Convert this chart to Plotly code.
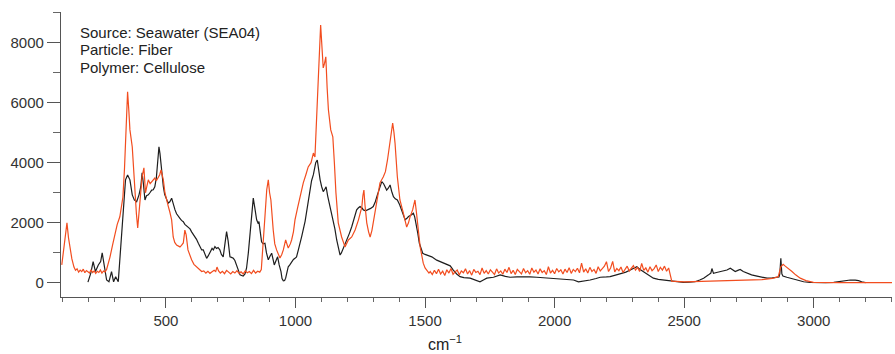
import plotly.graph_objects as go

# Wavenumbers (cm^-1) and intensities
black_x = [199, 205, 210, 219, 228, 239, 248, 254, 262, 271, 280, 290, 298, 306, 316, 326, 335, 344, 352, 361,
           370, 378, 387, 396, 403, 408, 413, 419, 425, 432, 438, 445, 451, 457, 463, 468, 473, 477, 481, 485,
           490, 495, 499, 504, 509, 515, 522, 528, 535, 541, 547, 554, 560, 567, 573, 580, 586, 593, 599, 605,
           612, 618, 625, 632, 638, 644, 650, 657, 663, 670, 678, 683, 689, 695, 701, 708, 714, 721, 727, 734,
           740, 747, 753, 760, 766, 773, 780, 786, 792, 798, 805, 811, 818, 824, 830, 837, 843, 850, 855, 859,
           864, 869, 875, 882, 888, 895, 902, 908, 913, 918, 925, 931, 937, 944, 948, 953, 958, 962, 967, 972,
           978, 985, 992, 998, 1004, 1011, 1018, 1024, 1037, 1049, 1062, 1069, 1078, 1084, 1090, 1095, 1101, 1107, 1112, 1118,
           1124, 1131, 1138, 1144, 1152, 1159, 1165, 1172, 1177, 1182, 1190, 1198, 1208, 1217, 1226, 1236, 1243, 1249, 1256, 1262,
           1270, 1281, 1290, 1300, 1308, 1316, 1325, 1333, 1340, 1346, 1352, 1358, 1365, 1371, 1378, 1385, 1393, 1402, 1410, 1416,
           1423, 1430, 1436, 1445, 1455, 1460, 1465, 1472, 1478, 1485, 1491, 1500, 1506, 1519, 1526, 1545, 1560, 1571, 1585, 1597,
           1609, 1622, 1635, 1650, 1674, 1690, 1712, 1725, 1738, 1764, 1790, 1810, 1828, 1855, 1880, 1905, 1931, 1960, 1983, 2010,
           2035, 2060, 2073, 2092, 2110, 2137, 2160, 2176, 2200, 2214, 2235, 2253, 2275, 2292, 2305, 2317, 2330, 2343, 2360, 2381,
           2400, 2420, 2440, 2459, 2497, 2520, 2542, 2560, 2575, 2594, 2603, 2607, 2613, 2625, 2639, 2655, 2665, 2678, 2688, 2697,
           2707, 2716, 2728, 2742, 2760, 2781, 2800, 2820, 2840, 2858, 2866, 2869, 2873, 2877, 2881, 2896, 2922, 2940, 2961, 2985,
           3012, 3045, 3077, 3100, 3115, 3141, 3160, 3173, 3185, 3200]
black_y = [30, 200, 330, 710, 380, 600, 710, 1000, 500, 100, 40, 380, 40, 210, 40, 1210, 2540, 3430, 3590, 3430,
           2930, 2760, 2700, 2930, 3200, 3660, 3300, 2760, 2900, 2930, 3000, 3090, 3100, 3200, 3500, 4090, 4530, 4300, 3870, 3500,
           3200, 2950, 2820, 2750, 2660, 2700, 2820, 2600, 2430, 2300, 2210, 2150, 2080, 2040, 1950, 1900, 1870, 1800, 1700, 1620,
           1540, 1450, 1320, 1200, 1100, 1100, 950, 820, 900, 1040, 1150, 1100, 1210, 1150, 1180, 1100, 950, 870, 1200, 1710,
           1400, 870, 850, 820, 750, 600, 400, 270, 250, 230, 300, 490, 1000, 1650, 2300, 2820, 2500, 2100, 2000, 2040,
           1700, 1370, 1300, 1320, 1000, 770, 900, 990, 800, 600, 750, 870, 600, 380, 150, 70, 80, 160, 350, 540,
           600, 710, 780, 820, 870, 1100, 1400, 1550, 2050, 2700, 3400, 3600, 4000, 4090, 3700, 3430, 3200, 3040, 3100, 3200,
           2900, 2650, 2400, 2100, 1800, 1430, 1150, 930, 1000, 1100, 1250, 1430, 1650, 1870, 2150, 2430, 2500, 2540, 2500, 2430,
           2400, 2430, 2480, 2540, 2700, 2930, 3150, 3370, 3300, 3200, 3090, 3150, 3260, 3050, 2870, 2800, 2760, 2600, 2430, 2250,
           2100, 2150, 2210, 2250, 2320, 2200, 1990, 1650, 1320, 1100, 990, 950, 930, 870, 870, 760, 700, 660, 620, 570,
           430, 300, 210, 180, 160, 120, 40, 100, 160, 190, 270, 220, 190, 200, 210, 200, 190, 175, 160, 140,
           120, 130, 100, 40, 60, 100, 150, 190, 200, 210, 260, 300, 360, 430, 480, 540, 450, 380, 270, 160,
           120, 100, 60, 40, 20, 30, 40, 100, 160, 270, 330, 480, 320, 350, 380, 420, 430, 490, 420, 380,
           420, 450, 380, 320, 270, 230, 200, 160, 170, 190, 200, 300, 820, 300, 230, 190, 130, 80, 40, 20,
           10, 15, 20, 50, 80, 100, 95, 80, 40, 10]

orange_x = [98, 108, 118, 124, 129, 137,
            145, 151, 157, 163, 169, 175, 181, 187, 193, 199, 205, 211, 217, 223, 229, 235, 241, 247, 253, 259, 265, 271, 275,
            284, 295, 303, 312, 322, 334, 340, 346, 352, 357, 361, 370, 380, 386, 391, 399, 408, 415, 421, 426,
            432, 439, 445, 451, 457, 463, 470, 476, 481, 485, 490, 496, 502, 509, 515, 522, 528, 534, 541, 547,
            554, 560, 567, 573, 578, 585, 592, 599, 608, 618,
            630, 638, 646, 654, 662, 670, 678, 686, 692, 697, 703, 710, 718, 726, 734, 742, 750, 758, 766, 774,
            782, 790, 798, 806, 814, 822, 830, 838, 846, 854, 862, 868,
            874, 882, 889, 895, 900, 905,
            914, 920, 927, 935, 940, 947, 953, 962, 972, 980, 985, 992, 998, 1008, 1017, 1030, 1040, 1049, 1060, 1069,
            1075, 1084, 1090, 1097, 1102, 1107, 1112, 1117, 1122, 1127, 1136, 1144, 1150, 1156, 1165, 1172, 1178, 1191, 1198, 1204,
            1217, 1230, 1243, 1256, 1260, 1264, 1268, 1275, 1282, 1288, 1295, 1300, 1313, 1326, 1339, 1347, 1355, 1360, 1365, 1370,
            1375, 1380, 1384, 1393, 1403, 1416, 1429, 1436, 1442, 1452, 1461, 1466, 1470, 1476, 1481, 1487, 1493, 1500, 1506, 1515,
            1520, 1528, 1536, 1544, 1552, 1560, 1568, 1576, 1584, 1592, 1600, 1608, 1616, 1624, 1632, 1640, 1648, 1656, 1664, 1672,
            1680, 1688, 1696, 1704, 1712, 1720, 1728, 1736, 1744, 1752, 1760, 1768, 1776, 1784, 1792, 1800, 1808, 1816, 1824, 1832,
            1840, 1848, 1856, 1864, 1872, 1880, 1888, 1896, 1904, 1912, 1920, 1928, 1936, 1944, 1952, 1960, 1968, 1976, 1984, 1992,
            2000, 2008, 2016, 2024, 2032, 2040, 2048, 2056, 2064, 2072, 2080, 2088, 2096, 2104, 2112, 2120, 2128, 2136, 2144, 2152,
            2160, 2168, 2176, 2184, 2192, 2200, 2208, 2216, 2224, 2232, 2240, 2248, 2256, 2264, 2272, 2280, 2288, 2296, 2304, 2312,
            2320, 2328, 2336, 2344, 2352, 2360, 2368, 2376, 2384, 2392, 2400, 2408, 2416, 2424, 2432, 2440, 2446, 2452,
            2500, 2600, 2700, 2800, 2840, 2863, 2873, 2882, 2890, 2905, 2916, 2930, 2948, 2970,
            2999, 3100, 3200, 3302]
orange_y = [600, 1300, 2000, 1500, 1200, 800,
            530, 420, 470, 360, 430, 380, 460, 340, 410, 370, 330, 440, 350, 400, 320, 390, 350, 430, 330, 400, 370, 450, 560,
            860, 1300, 1660, 1950, 2200, 2860, 3800, 5090, 6360, 5700, 5090, 4520, 3000, 2300, 1830, 2530, 3530, 3830, 3000, 3200,
            3430, 3300, 3360, 3450, 3490, 3400, 3530, 3600, 3760, 3600, 3430, 3000, 2760, 2550, 2360, 2100, 1530, 1350, 1260, 1230,
            1200, 1250, 1330, 1760, 1600, 1100, 900, 770, 620, 530,
            430, 380, 400, 330, 390, 320, 370, 420, 380, 530, 400, 330, 390, 310, 420, 350, 300, 380, 330, 410,
            320, 370, 300, 400, 340, 380, 310, 420, 330, 390, 360, 450,
            1100, 2200, 3100, 3430, 3000, 2760,
            1760, 1300, 1100, 900, 830, 950, 1100, 1430, 1160, 1300, 1430, 1700, 2100, 2500, 2860, 3330, 3600, 3860, 4000, 4320,
            4190, 5760, 7200, 8580, 7800, 7150, 7300, 7520, 6500, 5760, 5090, 4860, 4000, 3000, 2000, 1700, 1530, 1200, 1350, 1430,
            1530, 1760, 2100, 2530, 2900, 3090, 2600, 2000, 1700, 1530, 1750, 2000, 2660, 3330, 3530, 3700, 4090, 4400, 4860, 5100,
            5320, 5000, 4660, 3530, 2760, 2330, 1860, 2000, 2200, 2430, 2760, 2400, 2000, 1600, 1200, 900, 660, 500, 430, 330,
            380, 280, 420, 310, 460, 300, 390, 250, 440, 330, 480, 290, 370, 430, 270, 400, 340, 470, 300, 410,
            260, 450, 350, 390, 280, 500, 320, 410, 300, 440, 360, 280, 470, 330, 400, 290, 460, 350, 520, 310,
            420, 280, 450, 370, 300, 480, 340, 410, 290, 500, 360, 430, 300, 470, 350, 410, 280, 540, 330, 420,
            310, 480, 370, 440, 300, 460, 350, 510, 320, 450, 380, 490, 340, 660, 360, 470, 330, 520, 380, 450,
            320, 540, 400, 480, 560, 710, 380, 500, 720, 370, 480, 410, 530, 350, 470, 560, 400, 500, 580, 430,
            520, 380, 650, 420, 500, 360, 540, 410, 480, 600, 380, 520, 430, 560, 390, 500, 300, 60,
            40, 60, 80, 110, 150, 210, 540, 620, 560, 470, 380, 270, 160, 80,
            20, 15, 10, 10]

notes = ["Source: Seawater (SEA04)", "Particle: Fiber", "Polymer: Cellulose"]
x_ticks = [500, 1000, 1500, 2000, 2500, 3000]
y_ticks = [0, 2000, 4000, 6000, 8000]

fig = go.Figure()
fig.add_trace(go.Scatter(x=black_x, y=black_y, mode="lines",
                         line=dict(color="#1e1e1e", width=1.2), showlegend=False))
fig.add_trace(go.Scatter(x=orange_x, y=orange_y, mode="lines",
                         line=dict(color="#f24d1f", width=1.2), showlegend=False))

font_family = "Arial, Liberation Sans, sans-serif"

fig.update_layout(
    width=895, height=354,
    margin=dict(l=61, r=3, t=12, b=57),
    paper_bgcolor="white", plot_bgcolor="white",
    font=dict(family=font_family, size=15, color="#333333"),
    xaxis=dict(range=[95, 3302], showline=True, linecolor="#555555", linewidth=1.2,
               showgrid=False, zeroline=False,
               tickmode="array", tickvals=x_ticks, ticktext=[str(v) for v in x_ticks],
               ticks="outside", ticklen=10, tickcolor="#555555", tickwidth=1.2,
               tickfont=dict(size=15, color="#333333"),
               minor=dict(dtick=100, tick0=0, ticks="outside", ticklen=4, tickcolor="#666666", tickwidth=1)),
    yaxis=dict(range=[-466, 9010], showline=True, linecolor="#555555", linewidth=1.2,
               showgrid=False, zeroline=False,
               tickmode="array", tickvals=y_ticks, ticktext=[str(v) for v in y_ticks],
               ticks="outside", ticklen=13, tickcolor="#555555", tickwidth=1.2,
               tickfont=dict(size=15, color="#333333"),
               minor=dict(dtick=1000, tick0=0, ticks="outside", ticklen=7, tickcolor="#666666", tickwidth=1)),
)

# three note lines, 18 px apart, first line centred at y=32 px
plot_top, plot_h, plot_left, plot_w = 12, 285, 61, 831
for i, line in enumerate(notes):
    ypix = 32 + 18 * i
    fig.add_annotation(text=line, xref="paper", yref="paper",
                       x=(78 - plot_left) / plot_w, y=1 - (ypix - plot_top) / plot_h,
                       xanchor="left", yanchor="middle", align="left",
                       showarrow=False, font=dict(family=font_family, size=15, color="#222222"))
fig.add_annotation(text="cm<sup>−1</sup>", xref="paper", yref="paper",
                   x=(445 - plot_left) / plot_w, y=1 - (343 - plot_top) / plot_h,
                   xanchor="center", yanchor="middle",
                   showarrow=False, font=dict(family=font_family, size=16, color="#222222"))

fig.write_html("out.html")
